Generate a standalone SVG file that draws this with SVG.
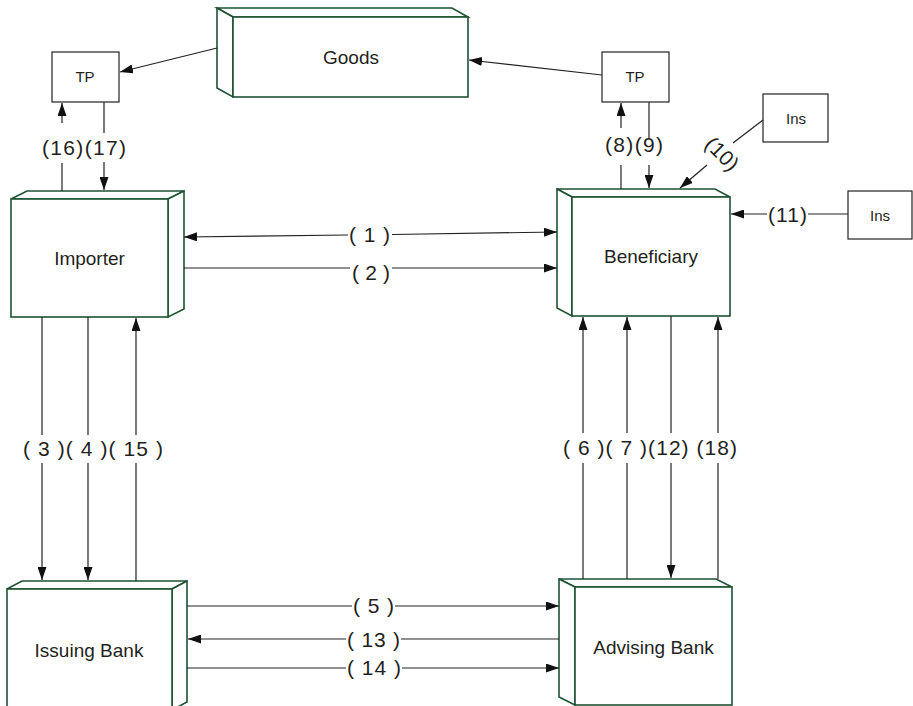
<svg xmlns="http://www.w3.org/2000/svg" width="913" height="706" viewBox="0 0 913 706">
  <style>
    .box3d { fill: #ffffff; stroke: #1e5232; stroke-width: 1.6; stroke-linejoin: miter; }
    .plain { fill: #ffffff; stroke: #222222; stroke-width: 1.2; }
    .conn { fill: none; stroke: #222222; stroke-width: 1.2; }
    .arr { marker-end: url(#head); }
    .arr-start { marker-start: url(#headRev); }
    text { font-family: "Liberation Sans", Arial, sans-serif; fill: #231f20; text-anchor: middle; }
    .node { font-size: 19px; }
    .small { font-size: 15px; }
    .lbl { font-size: 21px; }
  </style>
  <defs>
    <marker id="head" markerWidth="13" markerHeight="9" refX="13" refY="4.5" orient="auto" markerUnits="userSpaceOnUse">
      <path d="M0,0 L13,4.5 L0,9 z" fill="#111111"/>
    </marker>
    <marker id="headRev" markerWidth="13" markerHeight="9" refX="0" refY="4.5" orient="auto" markerUnits="userSpaceOnUse">
      <path d="M13,0 L0,4.5 L13,9 z" fill="#111111"/>
    </marker>
  </defs>

  <rect width="913" height="706" fill="#ffffff"/>

  <!-- Goods (depth to the upper left) -->
  <g id="goods">
    <polygon class="box3d" points="217,8 452,8 468,17 233,17"/>
    <polygon class="box3d" points="217,8 233,17 233,97 217,88"/>
    <rect class="box3d" x="233" y="17" width="235" height="80"/>
    <text class="node" x="351" y="64">Goods</text>
  </g>

  <!-- Transport providers -->
  <g id="tp-left">
    <rect class="plain" x="52" y="52" width="67" height="50"/>
    <text class="small" x="85" y="82">TP</text>
  </g>
  <g id="tp-right">
    <rect class="plain" x="602" y="52" width="67" height="50"/>
    <text class="small" x="635" y="82">TP</text>
  </g>

  <!-- Insurers -->
  <g id="ins-top">
    <rect class="plain" x="763" y="94" width="65" height="48"/>
    <text class="small" x="796" y="124">Ins</text>
  </g>
  <g id="ins-right">
    <rect class="plain" x="848" y="191" width="64" height="48"/>
    <text class="small" x="880" y="221">Ins</text>
  </g>

  <!-- Importer (depth to the upper right) -->
  <g id="importer">
    <polygon class="box3d" points="11,199 27,191 184,191 168,199"/>
    <polygon class="box3d" points="168,199 184,191 184,309 168,317"/>
    <rect class="box3d" x="11" y="199" width="157" height="118"/>
    <text class="node" x="89.5" y="265">Importer</text>
  </g>

  <!-- Beneficiary (depth to the upper left) -->
  <g id="beneficiary">
    <polygon class="box3d" points="557,189 715,189 730,197 572,197"/>
    <polygon class="box3d" points="557,189 572,197 572,316 557,308"/>
    <rect class="box3d" x="572" y="197" width="158" height="119"/>
    <text class="node" x="651" y="263">Beneficiary</text>
  </g>

  <!-- Issuing Bank -->
  <g id="issuing-bank">
    <polygon class="box3d" points="7,589 22,581 187,581 172,589"/>
    <polygon class="box3d" points="172,589 187,581 187,702 172,710"/>
    <rect class="box3d" x="7" y="589" width="165" height="121"/>
    <text class="node" x="89" y="657">Issuing Bank</text>
  </g>

  <!-- Advising Bank -->
  <g id="advising-bank">
    <polygon class="box3d" points="559,579 716,579 732,587 575,587"/>
    <polygon class="box3d" points="559,579 575,587 575,705 559,697"/>
    <rect class="box3d" x="575" y="587" width="157" height="118"/>
    <text class="node" x="653.5" y="654">Advising Bank</text>
  </g>

  <!-- Connectors -->
  <g id="connectors">
    <!-- goods to transport -->
    <line class="conn arr" x1="217" y1="48" x2="120" y2="72"/>
    <line class="conn arr" x1="602" y1="75" x2="469" y2="60"/>

    <!-- (16)(17) -->
    <line class="conn" x1="62" y1="191" x2="62" y2="163"/>
    <line class="conn arr" x1="62" y1="123" x2="62" y2="103"/>
    <line class="conn" x1="104" y1="102" x2="104" y2="133"/>
    <line class="conn arr" x1="104" y1="162" x2="104" y2="190"/>

    <!-- (8)(9) -->
    <line class="conn" x1="621" y1="189" x2="621" y2="165"/>
    <line class="conn arr" x1="621" y1="128" x2="621" y2="103"/>
    <line class="conn" x1="649" y1="102" x2="649" y2="138"/>
    <line class="conn arr" x1="649" y1="165" x2="649" y2="188"/>

    <!-- (10) -->
    <line class="conn" x1="763" y1="120" x2="733" y2="143"/>
    <line class="conn arr" x1="707" y1="165" x2="680" y2="188"/>

    <!-- (11) -->
    <line class="conn" x1="848" y1="214" x2="808" y2="214"/>
    <line class="conn arr" x1="767" y1="214" x2="731" y2="214"/>

    <!-- (1) two-way, (2) -->
    <line class="conn arr-start" x1="184" y1="237" x2="348" y2="235"/>
    <line class="conn arr" x1="392" y1="234.5" x2="557" y2="232"/>
    <line class="conn" x1="184" y1="268" x2="350" y2="268"/>
    <line class="conn arr" x1="392" y1="268" x2="557" y2="268"/>

    <!-- (3)(4)(15) -->
    <line class="conn" x1="42" y1="317" x2="42" y2="435"/>
    <line class="conn arr" x1="42" y1="463" x2="42" y2="580"/>
    <line class="conn" x1="88" y1="317" x2="88" y2="435"/>
    <line class="conn arr" x1="88" y1="463" x2="88" y2="580"/>
    <line class="conn" x1="136" y1="581" x2="136" y2="463"/>
    <line class="conn arr" x1="136" y1="435" x2="136" y2="318"/>

    <!-- (6)(7)(12)(18) -->
    <line class="conn" x1="583" y1="579" x2="583" y2="463"/>
    <line class="conn arr" x1="583" y1="433" x2="583" y2="317"/>
    <line class="conn" x1="627" y1="579" x2="627" y2="463"/>
    <line class="conn arr" x1="627" y1="433" x2="627" y2="317"/>
    <line class="conn" x1="671" y1="316" x2="671" y2="433"/>
    <line class="conn arr" x1="671" y1="463" x2="671" y2="578"/>
    <line class="conn" x1="718" y1="579" x2="718" y2="463"/>
    <line class="conn arr" x1="718" y1="433" x2="718" y2="317"/>

    <!-- (5)(13)(14) -->
    <line class="conn" x1="187" y1="606" x2="352" y2="606"/>
    <line class="conn arr" x1="395" y1="606" x2="559" y2="606"/>
    <line class="conn" x1="559" y1="639" x2="401" y2="639"/>
    <line class="conn arr" x1="346" y1="639" x2="188" y2="639"/>
    <line class="conn" x1="187" y1="668" x2="346" y2="668"/>
    <line class="conn arr" x1="402" y1="668" x2="559" y2="668"/>

    <!-- labels -->
    <text class="lbl" x="84" y="155" textLength="84" lengthAdjust="spacing">(16)(17)</text>
    <text class="lbl" x="634" y="152" textLength="58" lengthAdjust="spacing">(8)(9)</text>
    <text class="lbl" transform="translate(722,154) rotate(45)" x="0" y="7" textLength="38" lengthAdjust="spacing">(10)</text>
    <text class="lbl" x="787.5" y="222" textLength="39" lengthAdjust="spacing">(11)</text>
    <text class="lbl" x="369.5" y="242" textLength="41" lengthAdjust="spacing">( 1 )</text>
    <text class="lbl" x="371" y="280" textLength="38" lengthAdjust="spacing">( 2 )</text>
    <text class="lbl" x="93" y="456" textLength="140" lengthAdjust="spacing">( 3 )( 4 )( 15 )</text>
    <text class="lbl" x="650" y="455" textLength="174" lengthAdjust="spacing">( 6 )( 7 )(12) (18)</text>
    <text class="lbl" x="373.5" y="613" textLength="41" lengthAdjust="spacing">( 5 )</text>
    <text class="lbl" x="373.5" y="647" textLength="53" lengthAdjust="spacing">( 13 )</text>
    <text class="lbl" x="374" y="675" textLength="54" lengthAdjust="spacing">( 14 )</text>
  </g>
</svg>
